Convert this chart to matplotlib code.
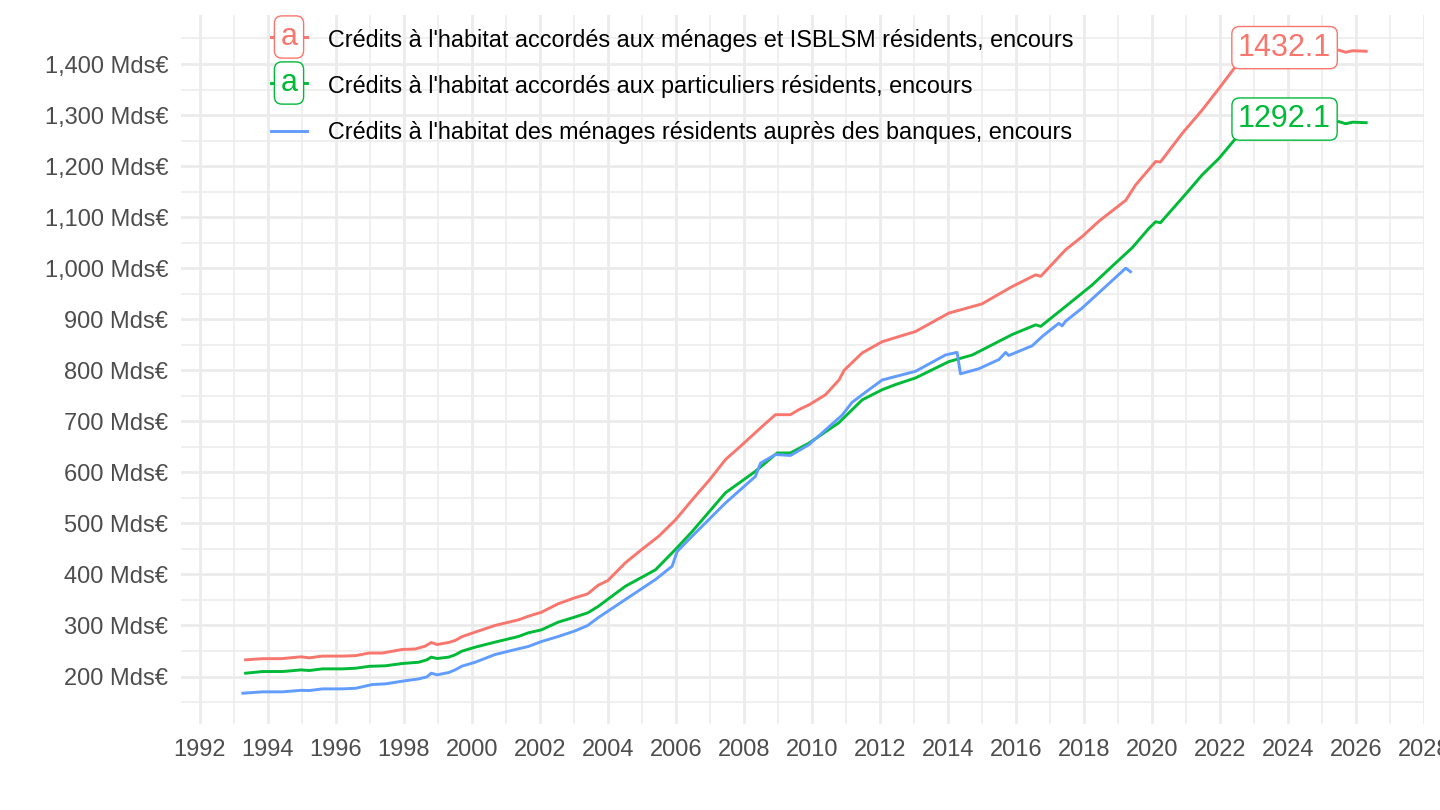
import numpy as np
import matplotlib.pyplot as plt
from matplotlib.ticker import FuncFormatter, MultipleLocator

plt.rcParams['font.family'] = ['Liberation Sans', 'DejaVu Sans']

# encours, Mds€ (date en années décimales)
dates_menages = [1993.35, 1993.85, 1994.39, 1994.98, 1995.22, 1995.61, 1996.20, 1996.59,
                 1996.98, 1997.37, 1997.95, 1998.34, 1998.63, 1998.81, 1998.98, 1999.32,
                 1999.51, 1999.71, 2000.10, 2000.68, 2001.37, 2001.66, 2002.05, 2002.54,
                 2003.02, 2003.41, 2003.71, 2004.0, 2004.52, 2005.0, 2005.5, 2005.99, 2006.48,
                 2007.0, 2007.46, 2007.95, 2008.54, 2008.93, 2009.37, 2009.62, 2009.91, 2010.40,
                 2010.8, 2010.95, 2011.48, 2012.07, 2013.05, 2014.03, 2015.0, 2015.89,
                 2016.58, 2016.73, 2017.46, 2017.95, 2018.44, 2019.23, 2019.52, 2020.11,
                 2020.25, 2020.89, 2021.48, 2021.97, 2022.46, 2023.0, 2023.5, 2023.9,
                 2024.5, 2025.5, 2025.7, 2025.9, 2026.3]
menages = [232.7, 235, 235, 238.6, 236.6, 240, 240, 241,
           246, 246, 253, 254, 259.5, 266.7, 262.7, 266.7,
           270.6, 278, 287, 300, 311, 318, 326, 342.5,
           354, 362, 378.5, 388, 423, 449, 475, 507, 546,
           586, 625, 654, 690, 713, 713, 723, 732, 752,
           781, 800, 834, 856, 876, 912, 930, 964,
           987, 984, 1036, 1062, 1092, 1133, 1163, 1209,
           1208, 1264, 1310, 1352, 1395, 1418, 1430, 1432.1,
           1430, 1427, 1423, 1426, 1425]

dates_particuliers = [1993.35, 1993.85, 1994.44, 1994.98, 1995.22, 1995.61, 1996.20, 1996.59,
                      1996.98, 1997.46, 1997.95, 1998.44, 1998.68, 1998.81, 1998.98, 1999.32,
                      1999.51, 1999.71, 2000.10, 2000.68, 2001.37, 2001.66, 2002.05, 2002.54,
                      2003.02, 2003.41, 2003.71, 2004.52, 2005.40, 2005.99, 2006.48, 2007.46,
                      2008.34, 2008.98, 2009.37, 2009.91, 2010.79, 2011.48, 2012.07, 2012.46,
                      2013.05, 2014.03, 2014.72, 2015.89, 2016.58, 2016.73, 2017.46, 2018.24,
                      2018.93, 2019.42, 2019.91, 2020.11, 2020.25, 2020.99, 2021.48, 2021.97,
                      2022.46, 2023.0, 2023.5, 2023.9, 2024.5, 2025.5, 2025.7, 2025.9, 2026.3]
particuliers = [206.5, 209.8, 209.8, 213, 211.8, 215, 215, 216.3,
                220, 221, 225.5, 228, 232.7, 238, 235.3, 238,
                242.5, 249.7, 257.5, 267.3, 278.4, 285.6, 291.5, 306.5,
                316.3, 324.8, 337, 377, 409, 449, 484, 560,
                602, 638, 638, 657, 697, 742, 762, 772,
                785, 817, 830, 870, 889, 886, 925, 967,
                1010, 1040, 1078, 1091, 1089, 1145, 1183, 1215,
                1254, 1275, 1288, 1292.1, 1289, 1287, 1283, 1286, 1285]

dates_banques = [1993.27, 1993.85, 1994.44, 1994.98, 1995.22, 1995.61, 1996.20, 1996.59,
                 1997.07, 1997.46, 1997.95, 1998.44, 1998.68, 1998.81, 1998.98, 1999.32,
                 1999.51, 1999.71, 2000.10, 2000.68, 2001.37, 2001.66, 2002.05, 2002.54,
                 2003.02, 2003.41, 2003.71, 2004.52, 2005.40, 2005.89, 2006.04, 2006.48,
                 2007.46, 2008.34, 2008.49, 2008.93, 2009.37, 2009.91, 2010.89, 2011.18,
                 2011.68, 2012.07, 2013.05, 2013.93, 2014.27, 2014.37, 2014.91, 2015.50,
                 2015.70, 2015.79, 2016.48, 2016.77, 2017.26, 2017.36, 2017.46, 2017.95,
                 2018.54, 2019.23, 2019.37]
banques = [167.3, 170, 170, 173, 172.5, 175.8, 175.8, 177,
           184.3, 185.6, 190.8, 195.4, 199.3, 206.5, 203.3, 207.8,
           213, 220.3, 228, 243, 254.3, 258.8, 268.6, 278.4,
           289, 300, 315, 351, 390, 416, 445, 475,
           540, 592, 618, 635, 633, 654, 712, 737,
           762, 781, 798, 830, 835, 793, 803, 821,
           835, 829, 848, 866, 892, 887, 896, 922,
           958, 1000, 993]

labels = ["Crédits à l'habitat accordés aux ménages et ISBLSM résidents, encours",
          "Crédits à l'habitat accordés aux particuliers résidents, encours",
          "Crédits à l'habitat des ménages résidents auprès des banques, encours"]
colors = ['#F8766D', '#00BA38', '#619CFF']

fig = plt.figure(figsize=(14.4, 8.1), dpi=100)
ax = fig.add_axes([181/1440, 1 - 724/810, (1424 - 181)/1440, (724 - 15)/810])

series = [(dates_menages, menages), (dates_particuliers, particuliers), (dates_banques, banques)]
for (d, v), c in zip(series, colors):
    ax.plot(d, v, color=c, lw=2.1, zorder=3, solid_joinstyle='round')

# étiquettes de valeur sur les deux séries longues
for (d, v), c in zip(series[:2], colors[:2]):
    i = int(np.argmax(v))
    ax.text(d[i], v[i], f"{v[i]:.1f}", color=c, fontsize=22, ha='center', va='center',
            zorder=5, bbox=dict(boxstyle='round,pad=0.2,rounding_size=0.25',
                                fc='white', ec=c, lw=1.0))

ax.set_xlim(1991.45, 2028.0)
ax.set_ylim(107, 1496)
ax.xaxis.set_major_locator(MultipleLocator(2))
ax.xaxis.set_minor_locator(MultipleLocator(1))
ax.set_yticks(np.arange(150, 1500, 100), minor=True)
ax.set_yticks(np.arange(200, 1401, 100))
ax.yaxis.set_major_formatter(FuncFormatter(lambda v, p: f"{int(v):,} Mds€"))
ax.xaxis.set_major_formatter(FuncFormatter(lambda v, p: f"{int(v)}"))

ax.grid(which='major', color='#EBEBEB', lw=2.0)
ax.grid(which='minor', color='#EBEBEB', lw=1.1)
ax.set_axisbelow(True)
for s in ax.spines.values():
    s.set_visible(False)
ax.tick_params(which='both', length=0, labelsize=17, labelcolor='#4D4D4D')
ax.tick_params(axis='y', pad=9)
ax.tick_params(axis='x', pad=11)

# légende
key_y = [37, 83, 131]
text_y = [40, 87, 133]
tr = lambda x, y: (x / 1440, 1 - y / 810)
for k, (lab, c) in enumerate(zip(labels, colors)):
    x0, y0 = tr(271, key_y[k])
    x1, _ = tr(307, key_y[k])
    fig.add_artist(plt.Line2D([x0, x1], [y0, y0], color=c, lw=2.1, transform=fig.transFigure))
    if k < 2:
        fig.text(*tr(289, key_y[k]), 'a', color=c, fontsize=22, ha='center', va='center',
                 bbox=dict(boxstyle='round,pad=0.2,rounding_size=0.25', fc='white', ec=c, lw=1.0))
    fig.text(*tr(328, text_y[k]), lab, color='black', fontsize=16.8, ha='left', va='center')

fig.savefig('out.png', dpi=100, facecolor='white')
